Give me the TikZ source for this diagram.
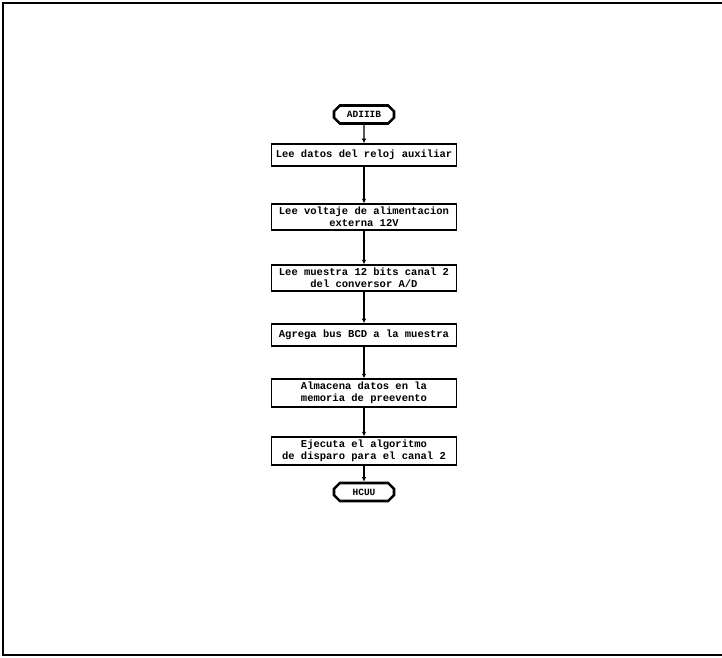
\documentclass[tikz,border=0pt]{standalone}
\usepackage{fontspec}
\usepackage{tikz}
\usetikzlibrary{shapes.misc,arrows.meta}

\newfontfamily\flowfont{Liberation Mono}

\begin{document}
\begin{tikzpicture}[x=1pt,y=1pt,
  procbox/.style={draw, line width=1.6pt, minimum width=185pt, minimum height=22pt,
    inner sep=3pt, align=center, font=\flowfont\bfseries\fontsize{10.5}{12}\selectfont},
  termbox/.style={draw, chamfered rectangle, chamfered rectangle xsep=3pt,
    line width=2.6pt, minimum width=60pt, minimum height=18pt, inner sep=2pt,
    font=\flowfont\bfseries\fontsize{9.5}{11}\selectfont},
  flowarrow/.style={line width=1.2pt, -{Latex[length=4.5pt,width=4.5pt]}}]

\useasboundingbox (0,0) rectangle (722,657);

% outer frame (right side is cut off)
\draw[line width=2pt] (722,654) -- (3,654) -- (3,2) -- (722,2);

\def\cx{364}

\node[termbox] (start) at (\cx,542.5) {ADIIIB};

\node[procbox] (reloj) at (\cx,502) {Lee datos del reloj auxiliar};
\node[procbox] (volt)  at (\cx,440) {Lee voltaje de alimentacion\\externa 12V};
\node[procbox] (muest) at (\cx,379) {Lee muestra 12 bits canal 2\\del conversor A/D};
\node[procbox] (bcd)   at (\cx,322) {Agrega bus BCD a la muestra};
\node[procbox] (almac) at (\cx,264) {Almacena datos en la\\memoria de preevento};
\node[procbox] (disp)  at (\cx,206) {Ejecuta el algoritmo\\de disparo para el canal 2};

\node[termbox] (fin) at (\cx,165) {HCUU};

\draw[flowarrow] (start) -- (reloj);
\draw[flowarrow] (reloj) -- (volt);
\draw[flowarrow] (volt)  -- (muest);
\draw[flowarrow] (muest) -- (bcd);
\draw[flowarrow] (bcd)   -- (almac);
\draw[flowarrow] (almac) -- (disp);
\draw[flowarrow] (disp)  -- (fin);

\end{tikzpicture}
\end{document}
